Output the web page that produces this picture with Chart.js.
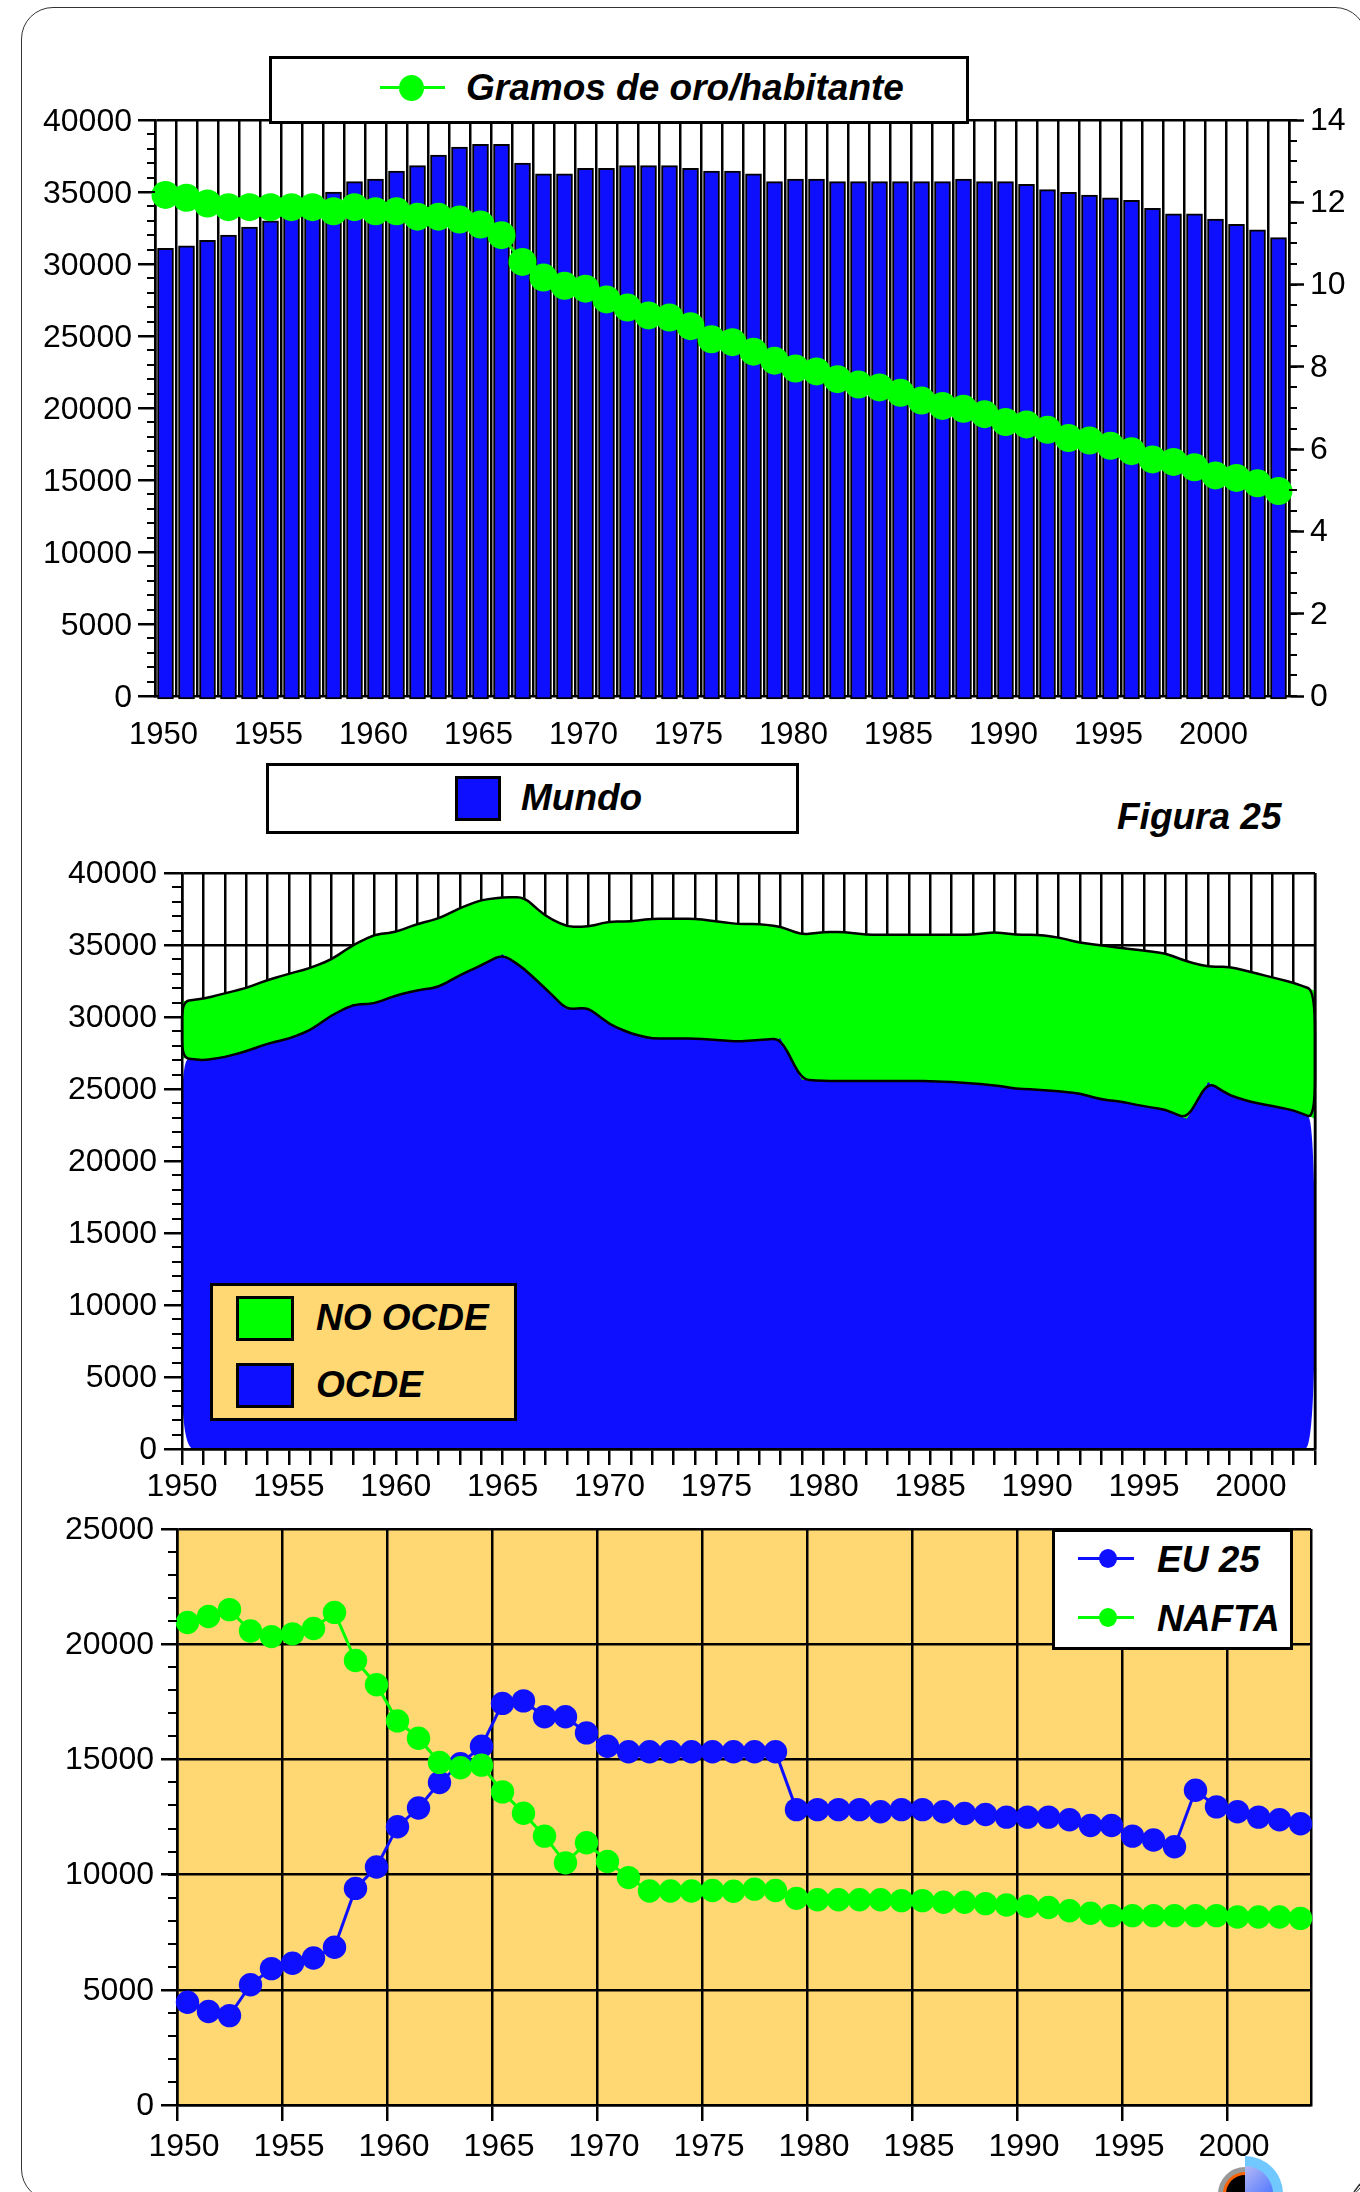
<!DOCTYPE html>
<html><head><meta charset="utf-8">
<script src="https://cdn.jsdelivr.net/npm/chart.js@4"></script>
<style>
html,body{margin:0;padding:0;background:#fff;width:1360px;height:2192px;overflow:hidden;font-family:"Liberation Sans",Arial,sans-serif}
canvas{position:absolute;left:0}
.frame{position:absolute;left:21px;top:7px;width:1346px;height:2194px;border:1.5px solid #333;border-radius:32px;box-sizing:border-box}
.box{position:absolute;box-sizing:border-box;border:3px solid #000;background:#fff}
.t{position:absolute;font:italic bold 37px "Liberation Sans",Arial,sans-serif;color:#000;white-space:nowrap;line-height:40px;height:40px}
.sw{position:absolute;box-sizing:border-box;border:3px solid #000}
.ln{position:absolute;height:3px}
.dot{position:absolute;border-radius:50%}
</style></head><body>
<div class="frame"></div>
<canvas id="c1" style="top:0"></canvas>
<canvas id="c2" style="top:840px"></canvas>
<canvas id="c3" style="top:1490px"></canvas>

<div class="box" style="left:269px;top:56px;width:700px;height:68px"></div>
<div class="ln" style="left:380px;top:86px;width:65px;background:#00ff00"></div>
<div class="dot" style="left:399px;top:75px;width:25px;height:26px;background:#00ff00"></div>
<div class="t" style="left:466px;top:68px">Gramos de oro/habitante</div>

<div class="box" style="left:266px;top:763px;width:533px;height:71px"></div>
<div class="sw" style="left:455px;top:776px;width:46px;height:45px;background:#0f0fff"></div>
<div class="t" style="left:521px;top:778px">Mundo</div>
<div class="t" style="left:1117px;top:797px">Figura 25</div>

<div class="box" style="left:210px;top:1283px;width:307px;height:138px;background:#ffd873"></div>
<div class="sw" style="left:236px;top:1296px;width:58px;height:45px;background:#00ff00"></div>
<div class="sw" style="left:236px;top:1363px;width:58px;height:45px;background:#0f0fff"></div>
<div class="t" style="left:316px;top:1298px">NO OCDE</div>
<div class="t" style="left:316px;top:1365px">OCDE</div>

<div class="box" style="left:1052px;top:1529px;width:241px;height:121px"></div>
<div class="ln" style="left:1078px;top:1557px;width:56px;background:#0f0fff"></div>
<div class="dot" style="left:1099px;top:1549px;width:18px;height:19px;background:#0f0fff"></div>
<div class="t" style="left:1157px;top:1540px">EU 25</div>
<div class="ln" style="left:1078px;top:1616px;width:56px;background:#00ff00"></div>
<div class="dot" style="left:1099px;top:1608px;width:18px;height:19px;background:#00ff00"></div>
<div class="t" style="left:1157px;top:1599px">NAFTA</div>

<svg width="1360" height="2192" style="position:absolute;left:0;top:0;pointer-events:none">
  <defs><linearGradient id="g" x1="0" y1="0" x2="1" y2="1"><stop offset="0" stop-color="#b4b8f4"/><stop offset="1" stop-color="#5078ff"/></linearGradient></defs>
  <path d="M1245 2194 V2156 A38 38 0 0 1 1283 2194 Z" fill="#70c8ff"/>
  <path d="M1245 2194 V2166 A28 28 0 0 1 1273 2194 Z" fill="url(#g)"/>
  <path d="M1245 2194 V2167 A27 27 0 0 0 1218 2194 Z" fill="#999"/>
  <path d="M1245 2194 V2172 A22 22 0 0 0 1223 2194 Z" fill="#ff6000"/>
  <path d="M1245 2194 V2175 A19 19 0 0 0 1226 2194 Z" fill="#000"/>
  <path d="M1354 2192 L1360 2184" stroke="#333" stroke-width="1.5"/>
</svg>

<script>
const years = [1950,1951,1952,1953,1954,1955,1956,1957,1958,1959,1960,1961,1962,1963,1964,1965,1966,1967,1968,1969,1970,1971,1972,1973,1974,1975,1976,1977,1978,1979,1980,1981,1982,1983,1984,1985,1986,1987,1988,1989,1990,1991,1992,1993,1994,1995,1996,1997,1998,1999,2000,2001,2002,2003];
const mundo = [31090,31270,31640,32010,32570,33000,33400,34000,35000,35720,35900,36460,36830,37570,38125,38310,38310,37010,36270,36270,36640,36640,36830,36830,36830,36640,36460,36460,36270,35720,35900,35900,35720,35720,35720,35720,35720,35720,35900,35720,35720,35530,35160,34970,34790,34600,34420,33860,33490,33490,33120,32750,32380,31830];
const gramos = [12.18,12.11,11.97,11.88,11.88,11.88,11.88,11.88,11.78,11.88,11.78,11.78,11.65,11.65,11.58,11.46,11.2,10.55,10.17,9.97,9.9,9.64,9.44,9.25,9.2,8.99,8.67,8.6,8.37,8.15,7.96,7.89,7.7,7.57,7.5,7.37,7.18,7.05,6.98,6.85,6.66,6.6,6.47,6.27,6.21,6.08,5.95,5.75,5.69,5.56,5.36,5.3,5.17,4.98];
const ocde = [27150,26990,27220,27620,28150,28500,29080,30120,30860,30930,31500,31850,32080,32900,33590,34350,33360,31970,30530,30650,29490,28850,28500,28500,28500,28400,28300,28400,28500,25650,25550,25550,25550,25550,25550,25550,25480,25390,25260,25030,24950,24840,24680,24280,24100,23800,23570,22940,25490,24560,24100,23820,23520,22940];
const eu25 = [4460,4060,3880,5220,5920,6150,6380,6850,9400,10330,12080,12890,14000,14810,15570,17430,17540,16850,16850,16150,15570,15330,15330,15330,15330,15330,15330,15330,15330,12820,12820,12820,12820,12725,12820,12820,12725,12650,12610,12495,12495,12495,12380,12130,12130,11670,11500,11210,13660,12940,12725,12495,12380,12210];
const nafta = [20945,21200,21500,20570,20330,20450,20680,21380,19290,18240,16670,15920,14870,14640,14750,13590,12660,11670,10510,11380,10570,9870,9290,9290,9290,9310,9280,9370,9310,8970,8910,8910,8910,8910,8870,8870,8800,8800,8740,8680,8625,8570,8430,8320,8220,8220,8220,8220,8220,8220,8160,8160,8160,8100];
const bottomTicks = [1950,1955,1960,1965,1970,1975,1980,1985,1990,1995,2000,2004];

const BLUE='#0f0fff', GREEN='#00ff00', GOLD='#ffd873', FONT='"Liberation Sans", Arial, sans-serif';
Chart.defaults.animation=false;
Chart.defaults.responsive=false;
Chart.defaults.font.family=FONT;
Chart.defaults.color='#000';
Chart.defaults.plugins.legend.display=false;
Chart.defaults.plugins.tooltip.enabled=false;

function size(id,w,h){const c=document.getElementById(id);c.width=w;c.height=h;c.style.width=w+'px';c.style.height=h+'px';return c;}
const minorTicks={id:'minorTicks',afterDraw(ch,a,o){
  const ctx=ch.ctx;ctx.save();ctx.strokeStyle='#000';ctx.lineWidth=2;
  (o.list||[]).forEach(m=>{const s=ch.scales[m.id];
    for(let v=s.min;v<=s.max+1e-9;v+=m.step){const y=Math.round(s.getPixelForValue(v));
      const x=m.side==='left'?s.right:s.left;
      ctx.beginPath();ctx.moveTo(x,y);ctx.lineTo(m.side==='left'?x-m.len:x+m.len,y);ctx.stroke();}
  });ctx.restore();}};
const plotBg={id:'plotBg',beforeDraw(ch,a,o){if(!o.color)return;const r=ch.chartArea,c=ch.ctx;c.save();c.fillStyle=o.color;c.fillRect(r.left,r.top,r.right-r.left,r.bottom-r.top);c.restore();}};
const lbl5=function(v){const y=Number(this.getLabelForValue?this.getLabelForValue(v):v);return y%5===0?String(y):'';};
const yTick5=v=>v%5000===0?String(v):'';

/* chart 1 */
new Chart(size('c1',1360,770),{
  data:{labels:years.map(String),datasets:[
    {type:'line',label:'Gramos de oro/habitante',data:gramos,yAxisID:'y1',borderColor:GREEN,backgroundColor:GREEN,borderWidth:3,pointRadius:14,pointBorderWidth:0,pointBackgroundColor:GREEN,tension:0,order:1,clip:false},
    {type:'bar',label:'Mundo',data:mundo,yAxisID:'y',backgroundColor:BLUE,borderColor:'#000',borderWidth:2,borderSkipped:false,barThickness:16,base:-200,order:2,clip:false}
  ]},
  options:{layout:{padding:{top:120}},plugins:{minorTicks:{list:[{id:'y',step:1000,len:8,side:'left'},{id:'y1',step:.5,len:8,side:'right'}]}},
    scales:{
      x:{type:'category',offset:true,afterFit(s){s.height=74;},grid:{offset:true,color:'#000',lineWidth:2.5,drawTicks:false},border:{color:'#000',width:2.5},
         ticks:{autoSkip:false,maxRotation:0,minRotation:0,padding:21,labelOffset:-2,font:{size:31},callback:lbl5}},
      y:{min:0,max:40000,afterFit(s){s.width=155;},grid:{color:c=>c.tick&&c.tick.value===40000?'#000':'transparent',lineWidth:2.5,tickColor:'#000',tickLength:17,tickWidth:2.5},border:{color:'#000',width:2.5},
         ticks:{stepSize:5000,padding:6,labelOffset:2,font:{size:32},callback:yTick5}},
      y1:{position:'right',min:0,max:14,afterFit(s){s.width=71;},grid:{drawOnChartArea:false,tickColor:'#000',tickLength:15,tickWidth:2.5},border:{color:'#000',width:2.5},
         ticks:{stepSize:2,padding:6,labelOffset:1,font:{size:32}}}
    }},
  plugins:[minorTicks]
});

/* chart 2 */
function cornerPath(ctx,pts,f){
  const n=pts.length;
  const cut=(p,q)=>({x:p.x+(q.x-p.x)*f,y:p.y+(q.y-p.y)*f});
  for(let i=0;i<n;i++){const p=pts[i],a=pts[(i-1+n)%n],b=pts[(i+1)%n];
    const s=cut(p,a),e=cut(p,b);
    if(i===0)ctx.moveTo(s.x,s.y);else ctx.lineTo(s.x,s.y);
    ctx.quadraticCurveTo(p.x,p.y,e.x,e.y);}
  ctx.closePath();
}
const bandOutline={id:'bandOutline',afterDatasetsDraw(ch){
  const ctx=ch.ctx,X=ch.scales.x,Y=ch.scales.y,a=ch.chartArea;
  const top=years.map((yr,i)=>({x:X.getPixelForValue(yr),y:Y.getPixelForValue(mundo[i])}));
  const low=years.map((yr,i)=>({x:X.getPixelForValue(yr),y:Y.getPixelForValue(ocde[i])})).reverse();
  const y0=Y.getPixelForValue(0);
  const tl=low[low.length-1],tr=low[0],ln=low[low.length-2],rn=low[1];
  ctx.save();ctx.fillStyle='#fff';
  const sl=(px,py,sx,sy,ex,ey)=>{ctx.beginPath();ctx.moveTo(px,py);ctx.lineTo(sx,sy);ctx.quadraticCurveTo(px,py,ex,ey);ctx.closePath();ctx.fill();};
  sl(tl.x,tl.y,tl.x,tl.y+55,tl.x+.33*(ln.x-tl.x),tl.y+.33*(ln.y-tl.y));
  sl(a.left,y0,a.left,y0-72,a.left+12,y0);
  sl(tr.x,tr.y,tr.x,tr.y+170,tr.x+.33*(rn.x-tr.x),tr.y+.33*(rn.y-tr.y));
  sl(a.right,y0,a.right,y0-170,a.right-10,y0);
  ctx.beginPath();cornerPath(ctx,top.concat(low),.33);
  ctx.strokeStyle='#000';ctx.lineWidth=2.5;ctx.lineJoin='round';ctx.stroke();
  ctx.beginPath();ctx.moveTo(a.right,a.top);ctx.lineTo(a.right,a.bottom);ctx.lineWidth=2.5;ctx.stroke();
  ctx.restore();}};
new Chart(size('c2',1360,670),{
  type:'line',
  data:{datasets:[
    {label:'NO OCDE',data:years.map((y,i)=>({x:y,y:mundo[i]})),borderWidth:0,pointRadius:0,tension:0,fill:1,backgroundColor:GREEN},
    {label:'OCDE',data:years.map((y,i)=>({x:y,y:ocde[i]})),borderWidth:0,pointRadius:0,tension:0,fill:'origin',backgroundColor:BLUE}
  ]},
  options:{layout:{padding:{top:33,right:45}},plugins:{minorTicks:{list:[{id:'y',step:1000,len:10,side:'left'}]}},
    scales:{
      x:{type:'linear',min:1950,max:2003,afterFit(s){s.height=61;},grid:{color:'#000',lineWidth:2.5,tickColor:'#000',tickLength:16,tickWidth:2.5},border:{color:'#000',width:2.5,z:1},
         ticks:{stepSize:1,autoSkip:false,maxRotation:0,minRotation:0,padding:3,labelOffset:0,font:{size:32},callback:v=>v%5===0?String(v):''}},
      y:{min:0,max:40000,afterFit(s){s.width=182;},grid:{color:'#000',lineWidth:2.5,tickColor:'#000',tickLength:18,tickWidth:2.5},border:{color:'#000',width:2.5,z:1},
         ticks:{stepSize:5000,padding:7,labelOffset:1,font:{size:32},callback:yTick5}}
    }},
  plugins:[minorTicks,bandOutline]
});

/* chart 3 */
new Chart(size('c3',1360,702),{
  type:'line',
  data:{datasets:[
    {label:'NAFTA',data:years.map((y,i)=>({x:y+.5,y:nafta[i]})),borderColor:GREEN,backgroundColor:GREEN,borderWidth:3,pointRadius:11.7,pointBorderWidth:0,tension:0,order:1,clip:false},
    {label:'EU 25',data:years.map((y,i)=>({x:y+.5,y:eu25[i]})),borderColor:BLUE,backgroundColor:BLUE,borderWidth:3,pointRadius:11.7,pointBorderWidth:0,tension:0,order:2,clip:false}
  ]},
  options:{layout:{padding:{top:39,right:49}},plugins:{plotBg:{color:GOLD},minorTicks:{list:[{id:'y',step:1000,len:9,side:'left'}]}},
    scales:{
      x:{type:'linear',min:1950,max:2004,afterFit(s){s.height=87;},afterBuildTicks(s){s.ticks=bottomTicks.map(v=>({value:v}));},grid:{color:'#000',lineWidth:2.5,tickColor:c=>c.tick&&c.tick.value===2004?'transparent':'#000',tickLength:16,tickWidth:2.5},border:{color:'#000',width:2.5},
         ticks:{autoSkip:false,maxRotation:0,minRotation:0,padding:7,labelOffset:7,font:{size:32},callback:v=>v%5===0?String(v):''}},
      y:{min:0,max:25000,afterFit(s){s.width=177;},grid:{color:'#000',lineWidth:2.5,tickColor:'#000',tickLength:16,tickWidth:2.5},border:{color:'#000',width:2.5},
         ticks:{stepSize:5000,padding:7,labelOffset:1,font:{size:32},callback:v=>String(v)}}
    }},
  plugins:[plotBg,minorTicks]
});
</script>
</body></html>
